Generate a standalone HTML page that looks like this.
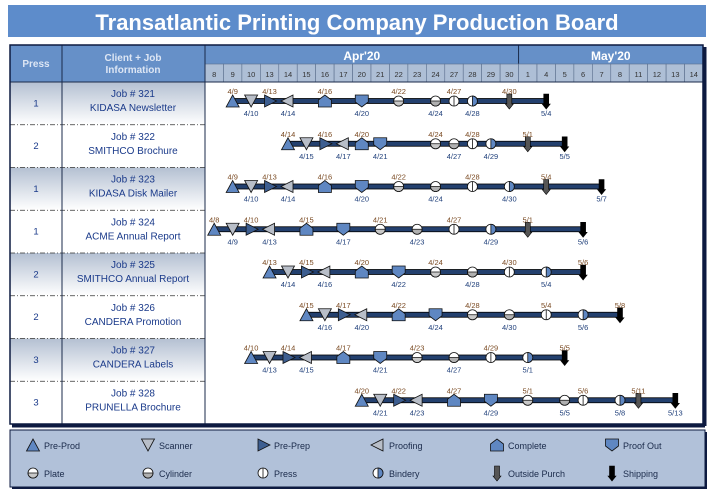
<!DOCTYPE html>
<html><head><meta charset="utf-8">
<style>
body{margin:0;background:#fff;width:713px;height:492px;overflow:hidden;font-family:"Liberation Sans",Arial,sans-serif;}
svg text{font-family:"Liberation Sans",Arial,sans-serif;}
</style></head>
<body>
<svg id="chart" width="713" height="492" xmlns="http://www.w3.org/2000/svg">
<defs>
<linearGradient id="rowg" x1="0" y1="0" x2="0" y2="1">
<stop offset="0" stop-color="#b4c0d2"/><stop offset="1" stop-color="#ffffff"/>
</linearGradient>
</defs>
<rect x="8" y="5" width="698" height="32" fill="#5d8ccb"/>
<text x="357" y="30" text-anchor="middle" font-size="22" font-weight="bold" fill="#fff">Transatlantic Printing Company Production Board</text>
<g id="grid"></g>
<g id="marks"></g>
<g id="legend"></g>
</svg>
<script>
const days=["8","9","10","13","14","15","16","17","20","21","22","23","24","27","28","29","30","1","4","5","6","7","8","11","12","13","14"];
const dateKeys=["4/8","4/9","4/10","4/13","4/14","4/15","4/16","4/17","4/20","4/21","4/22","4/23","4/24","4/27","4/28","4/29","4/30","5/1","5/4","5/5","5/6","5/7","5/8","5/11","5/12","5/13","5/14"];
const months=["Apr'20","May'20"];
const monthSpans=[17,10];
const presses=["1","2","1","1","2","2","3","3"];
const jobIds=["321","322","323","324","325","326","327","328"];
const clients=["KIDASA Newsletter","SMITHCO Brochure","KIDASA Disk Mailer","ACME Annual Report","SMITHCO Annual Report","CANDERA Promotion","CANDERA Labels","PRUNELLA Brochure"];
const types=["preprod","scanner","preprep","proofing","complete","proofout","plate","cylinder","press","bindery","outside","shipping"];
const typeLabels=["Pre-Prod","Scanner","Pre-Prep","Proofing","Complete","Proof Out","Plate","Cylinder","Press","Bindery","Outside Purch","Shipping"];
const job321=["4/9","4/10","4/13","4/14","4/16","4/20","4/22","4/24","4/27","4/28","4/30","5/4"];
const job322=["4/14","4/15","4/16","4/17","4/20","4/21","4/24","4/27","4/28","4/29","5/1","5/5"];
const job323=["4/9","4/10","4/13","4/14","4/16","4/20","4/22","4/24","4/28","4/30","5/4","5/7"];
const job324=["4/8","4/9","4/10","4/13","4/15","4/17","4/21","4/23","4/27","4/29","5/1","5/6"];
const job325=["4/13","4/14","4/15","4/16","4/20","4/22","4/24","4/28","4/30","5/4",null,"5/6"];
const job326=["4/15","4/16","4/17","4/20","4/22","4/24","4/28","4/30","5/4","5/6",null,"5/8"];
const job327=["4/10","4/13","4/14","4/15","4/17","4/21","4/23","4/27","4/29","5/1",null,"5/5"];
const job328=["4/20","4/21","4/22","4/23","4/27","4/29","5/1","5/5","5/6","5/8","5/11","5/13"];
const jobDates=[job321,job322,job323,job324,job325,job326,job327,job328];

const NS="http://www.w3.org/2000/svg";
const X0=205,X1=703,TOP=45,HDR=82,BOT=424;
const colW=(X1-X0)/days.length;
const rowH=(BOT-HDR)/jobIds.length;
function xOf(d){return X0+(dateKeys.indexOf(d)+0.5)*colW;}
function mk(tag,attrs,parent,txt){const e=document.createElementNS(NS,tag);for(const k in attrs)e.setAttribute(k,attrs[k]);if(txt!==undefined)e.textContent=txt;parent.appendChild(e);return e;}
const grid=document.getElementById('grid'),marks=document.getElementById('marks'),legend=document.getElementById('legend');

let h=mk('rect',{x:10,y:TOP,width:X1-10,height:HDR-TOP,fill:'#6690c8'},grid);


let t=mk('text',{x:36,y:67,'text-anchor':'middle','font-size':10,'font-weight':'bold',fill:'#dde6f4'},grid,'Press');


t=mk('text',{x:133,y:61,'text-anchor':'middle','font-size':10,'font-weight':'bold',fill:'#dde6f4'},grid,'Client + Job');


mk('text',{x:133,y:73,'text-anchor':'middle','font-size':10,'font-weight':'bold',fill:'#dde6f4'},grid,'Information');
let mx=X0;
months.forEach((m,i)=>{
  const w=monthSpans[i]*colW;
  const e=mk('text',{x:mx+w/2,y:60,'text-anchor':'middle','font-size':12,'font-weight':'bold',fill:'#fff'},grid,m);
  
  
  if(i>0)mk('line',{x1:mx,y1:TOP,x2:mx,y2:64,stroke:'#1a2a4a','stroke-width':1},grid);
  mx+=w;
});
days.forEach((d,i)=>{
  const x=X0+i*colW;
  const r=mk('rect',{x:x,y:64,width:colW,height:HDR-64,fill:'#aebfd6',stroke:'#5a6e8c','stroke-width':0.6},grid);
  
  
  mk('text',{x:x+colW/2,y:77,'text-anchor':'middle','font-size':7.5,fill:'#333'},grid,d);
});
jobIds.forEach((id,i)=>{
  const y=HDR+i*rowH;
  const fill=i%2===0?'url(#rowg)':'#fff';
  mk('rect',{x:10,y:y,width:52,height:rowH,fill:fill},grid);
  mk('rect',{x:62,y:y,width:143,height:rowH,fill:fill},grid);
  if(i>0)mk('line',{x1:10,y1:y,x2:205,y2:y,stroke:'#333','stroke-dasharray':'5,2,1,2','stroke-width':0.8},grid);
  const p=mk('text',{x:36,y:y+rowH/2+3,'text-anchor':'middle','font-size':9.5,fill:'#1a3a8a'},grid,presses[i]);
  
  
  const j=mk('text',{x:133,y:y+15,'text-anchor':'middle','font-size':10,fill:'#1a3a8a','xml:space':'preserve'},grid,'Job #  '+id);
  
  
  const c=mk('text',{x:133,y:y+29,'text-anchor':'middle','font-size':10,fill:'#1a3a8a'},grid,clients[i]);
  
  
});
mk('line',{x1:62,y1:TOP,x2:62,y2:BOT,stroke:'#1a2a4a','stroke-width':1},grid);
mk('line',{x1:205,y1:TOP,x2:205,y2:BOT,stroke:'#1a2a4a','stroke-width':1},grid);
mk('line',{x1:10,y1:HDR,x2:X1,y2:HDR,stroke:'#1a2a4a','stroke-width':1},grid);
mk('rect',{x:10,y:TOP,width:X1-10,height:BOT-TOP,fill:'none',stroke:'#0d1a40','stroke-width':1.5},grid);
mk('line',{x1:X1+2,y1:TOP+2,x2:X1+2,y2:BOT+2,stroke:'#0d1a40','stroke-width':3},grid);
mk('line',{x1:12,y1:BOT+2,x2:X1+2,y2:BOT+2,stroke:'#0d1a40','stroke-width':3},grid);

function marker(type,cx,cy,g){
  const s='#111',sw=0.8;
  let e;
  switch(type){
    case 'preprod':e=mk('polygon',{points:`${cx-6.5},${cy+6} ${cx},${cy-6} ${cx+6.5},${cy+6}`,fill:'#5f87c2',stroke:s,'stroke-width':sw},g);break;
    case 'scanner':e=mk('polygon',{points:`${cx-6.5},${cy-6} ${cx+6.5},${cy-6} ${cx},${cy+6}`,fill:'#b8bec8',stroke:s,'stroke-width':sw},g);break;
    case 'preprep':e=mk('polygon',{points:`${cx-5},${cy-6} ${cx+7},${cy} ${cx-5},${cy+6}`,fill:'#3d5e90',stroke:s,'stroke-width':sw},g);break;
    case 'proofing':e=mk('polygon',{points:`${cx+5},${cy-6} ${cx-7},${cy} ${cx+5},${cy+6}`,fill:'#b8bec8',stroke:s,'stroke-width':sw},g);break;
    case 'complete':e=mk('polygon',{points:`${cx-6.5},${cy+6} ${cx-6.5},${cy-1} ${cx},${cy-6} ${cx+6.5},${cy-1} ${cx+6.5},${cy+6}`,fill:'#5f87c2',stroke:s,'stroke-width':sw},g);break;
    case 'proofout':e=mk('polygon',{points:`${cx-6.5},${cy-6} ${cx+6.5},${cy-6} ${cx+6.5},${cy+1} ${cx},${cy+6} ${cx-6.5},${cy+1}`,fill:'#5f87c2',stroke:s,'stroke-width':sw},g);break;
    case 'plate':case 'cylinder':
      e=mk('circle',{cx:cx,cy:cy,r:5,fill:'#fff',stroke:s,'stroke-width':sw},g);
      mk('path',{d:`M${cx-5},${cy} A5,5 0 0 0 ${cx+5},${cy} Z`,fill:type==='plate'?'#c8c8c8':'#b0b0b0',stroke:s,'stroke-width':sw},g);break;
    case 'press':
      e=mk('circle',{cx:cx,cy:cy,r:5,fill:'#fff',stroke:s,'stroke-width':sw},g);
      mk('line',{x1:cx,y1:cy-5,x2:cx,y2:cy+5,stroke:s,'stroke-width':sw},g);break;
    case 'bindery':
      e=mk('circle',{cx:cx,cy:cy,r:5,fill:'#fff',stroke:s,'stroke-width':sw},g);
      mk('path',{d:`M${cx},${cy-5} A5,5 0 0 1 ${cx},${cy+5} Z`,fill:'#5f87c2',stroke:s,'stroke-width':sw},g);break;
    case 'outside':case 'shipping':
      e=mk('polygon',{points:`${cx-2.5},${cy-7} ${cx+2.5},${cy-7} ${cx+2.5},${cy+3} ${cx+4},${cy+3} ${cx},${cy+8} ${cx-4},${cy+3} ${cx-2.5},${cy+3}`,fill:type==='outside'?'#555':'#000',stroke:'#000','stroke-width':0.6},g);break;
  }
  return e;
}

jobDates.forEach((dates,i)=>{
  const cy=HDR+i*rowH+19;
  const present=dates.filter(d=>d);
  const xa=xOf(present[0]),xb=xOf(present[present.length-1]);
  const bar=mk('rect',{x:xa,y:cy-2.5,width:xb-xa,height:5,fill:'#23406e',stroke:'#000','stroke-width':0.8},marks);
  
  
  let k=0;
  dates.forEach((d,ti)=>{
    if(!d)return;
    const x=xOf(d);
    const g=mk('g',{},marks);
    
    
    marker(types[ti],x,cy,g);
    const above=k%2===0;
    mk('text',{x:x,y:above?cy-7:cy+15,'text-anchor':'middle','font-size':7.5,fill:above?'#7a4a22':'#1f3f7a'},g,d);
    k++;
  });
});

const lg=mk('rect',{x:10,y:430,width:695,height:57,fill:'#b1c1d9',stroke:'#0d1a40','stroke-width':1},legend);


mk('line',{x1:706,y1:432,x2:706,y2:489,stroke:'#0d1a40','stroke-width':2},legend);
mk('line',{x1:12,y1:488,x2:706,y2:488,stroke:'#0d1a40','stroke-width':2},legend);
const lx=[33,148,263,378,497,612];
types.forEach((tp,i)=>{
  const col=i%6,row=Math.floor(i/6);
  const x=lx[col],y=row===0?445:473;
  const g=mk('g',{},legend);
  
  
  marker(tp,x,y,g);
  mk('text',{x:x+11,y:y+4,'font-size':9,fill:'#1a2a4a'},g,typeLabels[i]);
});
</script>
</body></html>
